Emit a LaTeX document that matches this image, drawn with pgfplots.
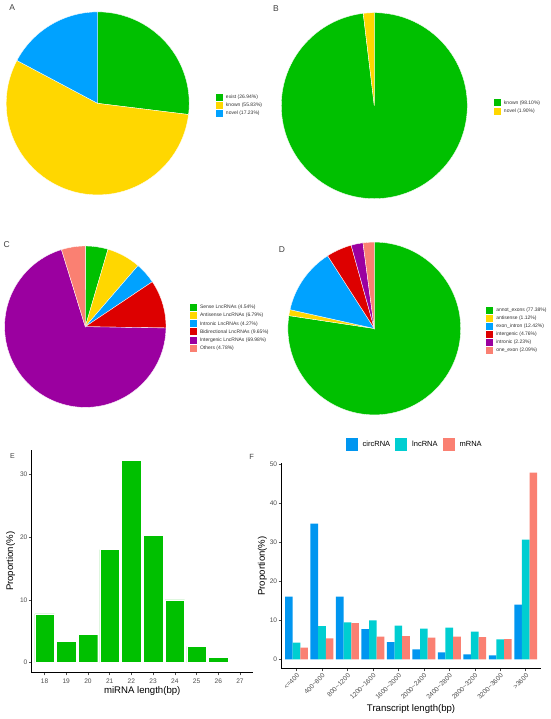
\documentclass[border=0pt]{standalone}
\usepackage{fontspec}
\setmainfont{Liberation Sans}
\usepackage{pgfplots}
\pgfplotsset{compat=1.18}
\definecolor{cGreen}{RGB}{0,192,0}
\definecolor{cYellow}{RGB}{255,215,0}
\definecolor{cBlue}{RGB}{0,162,255}
\definecolor{cRed}{RGB}{221,0,0}
\definecolor{cPurple}{RGB}{155,0,160}
\definecolor{cSalmon}{RGB}{250,128,114}
\definecolor{cCirc}{RGB}{0,150,240}
\definecolor{cLnc}{RGB}{0,206,209}
\definecolor{cTick}{RGB}{77,77,77}

\newcommand{\pieslices}[2]{%
  \gdef\pieang{90}%
  \foreach \v/\c in {#2}{%
    \pgfmathsetmacro\pieend{\pieang-3.6*\v}%
    \fill[\c, draw=white, line width=0.35pt] (axis cs:0,0) -- ++(\pieang:#1pt) arc[start angle=\pieang, end angle=\pieend, radius=#1pt] -- cycle;%
    \global\let\pieang\pieend
  }%
}

\pgfplotsset{
  pie/.style={scale only axis, hide axis, clip=false, xmin=-1,xmax=1,ymin=-1,ymax=1, anchor=center,
    legend cell align=left,
    legend image code/.code={\fill[##1, draw=none] (0pt,-3.5pt) rectangle (7pt,3.5pt);},
    legend style={draw=none, fill=none, inner sep=0pt, outer sep=0pt, anchor=north west,
      font=\fontsize{5}{6}\selectfont, text=black!80,
      nodes={inner xsep=0pt, inner ysep=0pt, text height=3.6pt, text depth=1pt},
      /tikz/every odd column/.append style={column sep=3pt}},
  },
  barax/.style={scale only axis, anchor=south west,
    axis x line*=bottom, axis y line*=left, axis line style={black, line width=0.5pt},
    tick align=outside, major tick length=2.7pt, tick style={cTick, line width=0.5pt},
    ticklabel style={font=\fontsize{6.6}{7.6}\selectfont, text=cTick},
    yticklabel style={inner sep=1.2pt},
    /pgf/number format/assume math mode=true,
    label style={font=\fontsize{9.6}{10.6}\selectfont},
  },
}

\begin{document}
\begin{tikzpicture}
\path[use as bounding box] (0,0) rectangle (550pt,719pt);

% ---------- A ----------
\begin{axis}[pie, at={(97.7pt,615.6pt)}, width=183pt, height=183pt,
  legend style={at={(1.1464,0.553)}, row sep=1pt}]
\addlegendimage{fill=cGreen}\addlegendentry{exist (26.94\%)}
\addlegendimage{fill=cYellow}\addlegendentry{known (55.83\%)}
\addlegendimage{fill=cBlue}\addlegendentry{novel (17.23\%)}
\pgfplotsextra{\pieslices{91.5}{26.94/cGreen,55.83/cYellow,17.23/cBlue}}
\end{axis}

% ---------- B ----------
\begin{axis}[pie, at={(374.3pt,613.3pt)}, width=186pt, height=186pt,
  legend style={at={(1.1435,0.5344)}, row sep=1.3pt}]
\addlegendimage{fill=cGreen}\addlegendentry{known (98.10\%)}
\addlegendimage{fill=cYellow}\addlegendentry{novel (1.90\%)}
\pgfplotsextra{\pieslices{93}{98.10/cGreen,1.90/cYellow}}
\end{axis}

% ---------- C ----------
\begin{axis}[pie, at={(85.3pt,392.3pt)}, width=161.4pt, height=161.4pt,
  legend style={at={(1.1487,0.6406)}, row sep=1.13pt}]
\addlegendimage{fill=cGreen}\addlegendentry{Sense LncRNAs (4.54\%)}
\addlegendimage{fill=cYellow}\addlegendentry{Antisense LncRNAs (6.79\%)}
\addlegendimage{fill=cBlue}\addlegendentry{Intronic LncRNAs (4.27\%)}
\addlegendimage{fill=cRed}\addlegendentry{Bidirectional LncRNAs (9.65\%)}
\addlegendimage{fill=cPurple}\addlegendentry{Intergenic LncRNAs (69.98\%)}
\addlegendimage{fill=cSalmon}\addlegendentry{Others (4.78\%)}
\pgfplotsextra{\pieslices{80.7}{4.54/cGreen,6.79/cYellow,4.27/cBlue,9.65/cRed,69.98/cPurple,4.78/cSalmon}}
\end{axis}

% ---------- D ----------
\begin{axis}[pie, at={(374.3pt,390.5pt)}, width=172.8pt, height=172.8pt,
  legend style={at={(1.148,0.626)}, row sep=1pt}]
\addlegendimage{fill=cGreen}\addlegendentry{annot\_exons (77.38\%)}
\addlegendimage{fill=cYellow}\addlegendentry{antisense (1.12\%)}
\addlegendimage{fill=cBlue}\addlegendentry{exon\_intron (12.42\%)}
\addlegendimage{fill=cRed}\addlegendentry{intergenic (4.76\%)}
\addlegendimage{fill=cPurple}\addlegendentry{intronic (2.23\%)}
\addlegendimage{fill=cSalmon}\addlegendentry{one\_exon (2.09\%)}
\pgfplotsextra{\pieslices{86.4}{77.38/cGreen,1.12/cYellow,12.42/cBlue,4.76/cRed,2.23/cPurple,2.09/cSalmon}}
\end{axis}

% ---------- E ----------
\begin{axis}[barax, at={(31.5pt,46.3pt)}, width=221.5pt, height=222.7pt,
  xmin=17.4, xmax=27.6, ymin=-1.62, ymax=33.95,
  xtick={18,...,27}, ytick={0,10,20,30},
  xlabel={miRNA length(bp)}, ylabel={Proportion(\%)},
  xlabel style={at={(axis description cs:0.5,-0.0808)}, anchor=center},
  ylabel style={at={(axis description cs:-0.0939,0.5)}, anchor=center},
]
\addplot[ybar, bar width=0.9, fill=cGreen, draw=white, line width=0.3pt] coordinates {
(18,7.78) (19,3.35) (20,4.55) (21,18.05) (22,32.33) (23,20.29) (24,10.0) (25,2.6) (26,0.8) (27,0.16)};
\end{axis}

% ---------- F ----------
\begin{axis}[barax, at={(281.2pt,50.3pt)}, width=259.8pt, height=205.4pt,
  xmin=0.4, xmax=10.6, ymin=-2.4, ymax=50.35,
  xtick={1,...,10}, ytick={0,10,20,30,40,50},
  xticklabels={{<=400},{400\textasciitilde 800},{800\textasciitilde 1200},{1200\textasciitilde 1600},{1600\textasciitilde 2000},{2000\textasciitilde 2400},{2400\textasciitilde 2800},{2800\textasciitilde 3200},{3200\textasciitilde 3600},{>3600}},
  x tick label style={rotate=45, anchor=north east, inner sep=1pt},
  xlabel={Transcript length(bp)}, ylabel={Proportion(\%)},
  xlabel style={at={(axis description cs:0.5,-0.196)}, anchor=center},
  ylabel style={at={(axis description cs:-0.0727,0.5)}, anchor=center},
  legend columns=3,
  legend image code/.code={\fill[#1, draw=none] (0pt,-6.5pt) rectangle (12pt,6.5pt);},
  legend style={at={(axis description cs:0.2483,1.093)}, anchor=west, draw=none, fill=none,
    inner sep=0pt, outer sep=0pt, font=\fontsize{7.5}{8.5}\selectfont,
    nodes={inner xsep=0pt, inner ysep=0pt},
    /tikz/every odd column/.append style={column sep=5pt},
    /tikz/every even column/.append style={column sep=5pt}},
]
\addplot[ybar, forget plot, bar width=0.3, bar shift=-0.3, fill=cCirc, draw=none] coordinates {
(1,16.1) (2,34.85) (3,16.1) (4,7.79) (5,4.45) (6,2.57) (7,1.8) (8,1.28) (9,1.03) (10,14.04)};
\addplot[ybar, forget plot, bar width=0.3, bar shift=0, fill=cLnc, draw=none] coordinates {
(1,4.28) (2,8.56) (3,9.5) (4,10.0) (5,8.65) (6,7.88) (7,8.13) (8,7.1) (9,5.14) (10,30.74)};
\addplot[ybar, forget plot, bar width=0.3, bar shift=0.3, fill=cSalmon, draw=none] coordinates {
(1,3.0) (2,5.39) (3,9.33) (4,5.82) (5,5.99) (6,5.56) (7,5.82) (8,5.74) (9,5.22) (10,47.95)};
\addlegendimage{fill=cCirc}\addlegendentry{circRNA}
\addlegendimage{fill=cLnc}\addlegendentry{lncRNA}
\addlegendimage{fill=cSalmon}\addlegendentry{mRNA}
\end{axis}

% panel letters
\node[font=\fontsize{8.5}{9.5}\selectfont, text=black!75] at (12.2pt,711.7pt) {A};
\node[font=\fontsize{8.5}{9.5}\selectfont, text=black!75] at (276pt,710pt) {B};
\node[font=\fontsize{8.5}{9.5}\selectfont, text=black!75] at (6.7pt,474pt) {C};
\node[font=\fontsize{8.5}{9.5}\selectfont, text=black!75] at (282pt,469pt) {D};
\node[font=\fontsize{7}{8}\selectfont, text=black!75] at (12.5pt,263pt) {E};
\node[font=\fontsize{7.5}{8.5}\selectfont, text=black!75] at (251.7pt,261.7pt) {F};
\end{tikzpicture}
\end{document}
